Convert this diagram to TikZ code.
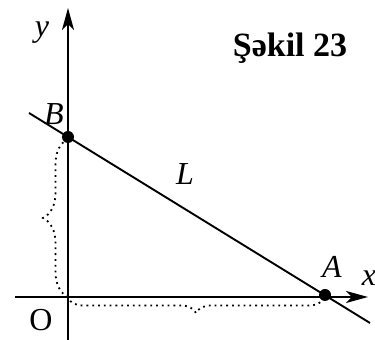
\documentclass[tikz,border=0pt]{standalone}
\usepackage{fontspec}
\setmainfont{Liberation Serif}
\usetikzlibrary{arrows.meta,decorations.pathreplacing}
\begin{document}
\begin{tikzpicture}[x=0.5pt, y=-0.5pt, line width=0.95pt,
  >={Stealth[length=11pt,width=6pt,inset=3pt]},
  lbl/.style={font=\fontsize{16}{18}\selectfont\itshape, inner sep=0pt},
  dot/.style={circle, fill, inner sep=0pt, minimum size=6pt},
  dbrace/.style={decorate, dotted, line width=0.9pt, decoration={brace, amplitude=#1}}]
  \useasboundingbox (0,0) rectangle (375,340);
  \coordinate (O) at (68, 297);
  \coordinate (Xs) at (15, 297);
  \coordinate (Xe) at (368, 297);
  \coordinate (Ys) at (68, 340);
  \coordinate (Ye) at (68, 8);
  \coordinate (Ls) at (29, 113);
  \coordinate (Le) at (370, 323);
  \draw[->] (Xs) -- (Xe);
  \draw[->] (Ys) -- (Ye);
  \draw (Ls) -- (Le);
  \node[dot] (B) at (68, 137) {};
  \node[dot] (A) at (325, 295) {};
  % braces
  \draw[dbrace=12.5pt] (68, 297) -- (68, 139);
  \draw[dbrace=7.5pt] (324, 298) -- (68, 298);
  % labels
  \node[lbl] (ylab) at (42, 33) {y};
  \node[lbl] (xlab) at (369, 278) {x};
  \node[lbl] (Blab) at (54, 114) {B};
  \node[lbl] (Alab) at (332, 267) {A};
  \node[lbl] (Llab) at (185, 174) {L};
  \node[inner sep=0pt, font=\fontsize{16}{18}\selectfont] (Olab) at (41, 320) {O};
  \node[inner sep=0pt, font=\fontsize{17}{20}\selectfont\bfseries] (title) at (290, 48) {Şəkil 23};
\end{tikzpicture}
\end{document}
